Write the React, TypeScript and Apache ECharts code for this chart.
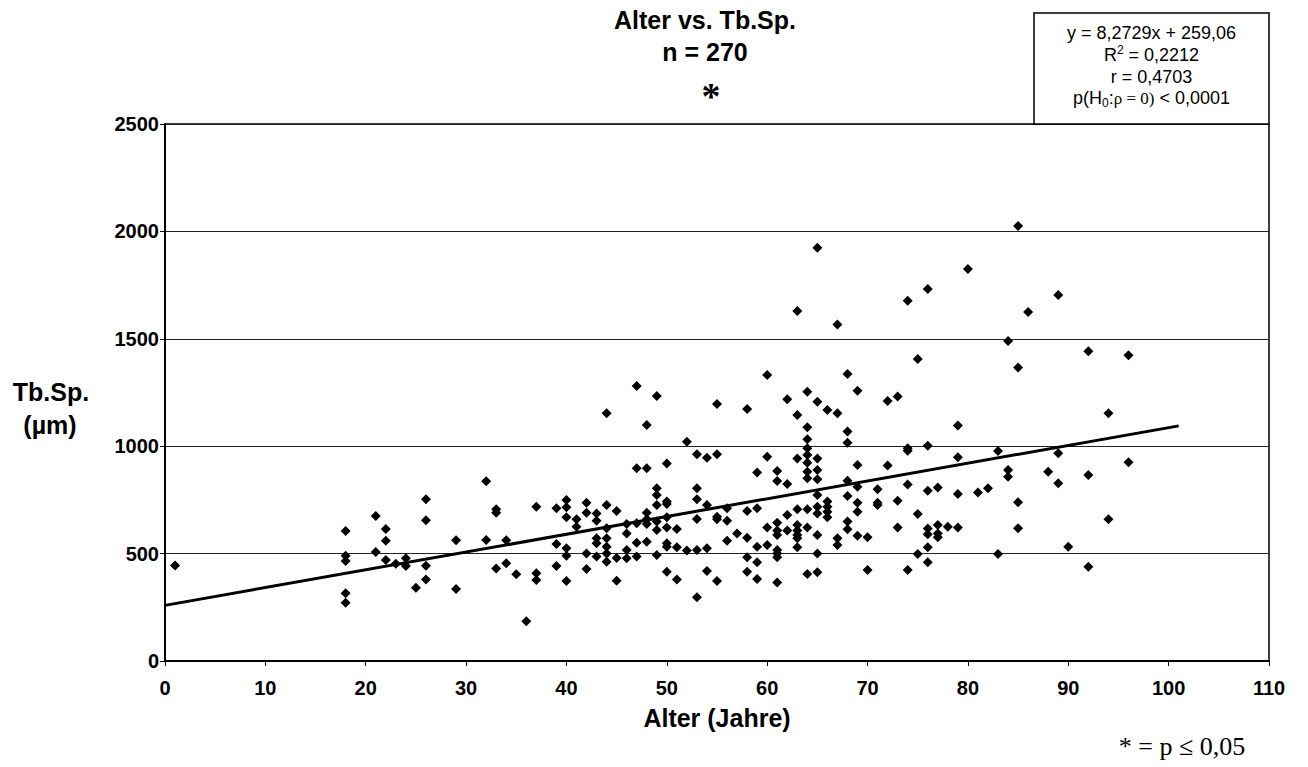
import React, { useEffect, useRef } from "react";
import * as echarts from "echarts";

// Ages (Jahre) and the Tb.Sp. values (µm) read at each age
const ALTER = [1, 18, 21, 22, 23, 24, 25, 26, 29, 32, 33, 34, 35, 36, 37, 39, 40, 41, 42, 43, 44, 45, 46, 47, 48, 49, 50, 51, 52, 53, 54, 55, 56, 57, 58, 59, 60, 61, 62, 63, 64, 65, 66, 67, 68, 69, 70, 71, 72, 73, 74, 75, 76, 77, 78, 79, 80, 81, 82, 83, 84, 85, 86, 88, 89, 90, 92, 94, 96];
const TBSP = [
  [445],
  [605, 490, 466, 315, 271],
  [675, 507],
  [614, 560, 470],
  [453],
  [478, 442],
  [341],
  [753, 655, 444, 380],
  [562, 335],
  [837, 563],
  [706, 690, 431],
  [562, 455],
  [404],
  [185],
  [718, 408, 377],
  [711, 545, 442],
  [750, 716, 669, 525, 490, 372],
  [660, 625],
  [737, 690, 501, 428],
  [687, 653, 571, 548, 486],
  [1153, 726, 618, 571, 532, 501, 462],
  [698, 480, 374],
  [638, 594, 517, 478],
  [1280, 897, 641, 551, 486],
  [1099, 897, 690, 660, 638, 555],
  [1234, 804, 773, 726, 649, 610, 493],
  [920, 742, 731, 669, 622, 548, 532, 416],
  [615, 529, 380],
  [1021, 514],
  [962, 804, 753, 661, 517, 297],
  [946, 726, 525, 419],
  [1197, 962, 672, 660, 372],
  [711, 653, 560],
  [594],
  [1173, 698, 574, 483, 416],
  [878, 711, 532, 460, 382],
  [1331, 951, 622, 540],
  [885, 838, 644, 607, 587, 517, 501, 483, 366],
  [1218, 824, 680, 607],
  [1629, 1145, 943, 706, 633, 607, 587, 571, 529],
  [1254, 1088, 1032, 990, 959, 923, 881, 851, 706, 622, 405],
  [1924, 1207, 943, 889, 846, 773, 718, 687, 587, 501, 413],
  [1169, 742, 718, 695, 669],
  [1567, 1153, 571, 540],
  [1336, 1068, 1016, 839, 768, 649, 613],
  [1258, 912, 811, 737, 695, 583],
  [576, 424],
  [799, 737, 726],
  [1210, 910],
  [1231, 746, 621],
  [1677, 990, 979, 822, 424],
  [1406, 684, 498],
  [1732, 1002, 793, 617, 590, 529, 460],
  [808, 633, 594, 576],
  [625],
  [1096, 948, 777, 621],
  [1825],
  [784],
  [804],
  [978, 498],
  [1490, 889, 858],
  [2025, 1366, 739, 618],
  [1625],
  [881],
  [1704, 967, 827],
  [532],
  [1442, 866, 439],
  [1153, 660],
  [1423, 925],
];

// Regression y = 8,2729x + 259,06, drawn from x = 0 to x = 101
const SLOPE = 8.2729;
const INTERCEPT = 259.06;
const TREND_X = [0, 101];

const X_TICKS = { min: 0, max: 110, interval: 10 };
const Y_TICKS = { min: 0, max: 2500, interval: 500 };

const SANS = "'Liberation Sans', Arial, sans-serif";
const SERIF = "'Liberation Serif', 'Times New Roman', serif";

export default function App() {
  const ref = useRef<HTMLDivElement>(null);

  useEffect(() => {
    if (!ref.current) return;
    const chart = echarts.init(ref.current, undefined, { renderer: "svg" });

    const points: number[][] = [];
    ALTER.forEach((a, i) => TBSP[i].forEach((v) => points.push([a, v])));
    const trend = TREND_X.map((x) => [x, SLOPE * x + INTERCEPT]);

    const boxLeft = 1034;
    const boxRight = 1269;
    const boxCx = (boxLeft + boxRight) / 2;
    const boxFont = { fontFamily: SANS, fontSize: 18, fill: "#000" };
    const plain = (v: number) => String(v);

    chart.setOption({
      animation: false,
      backgroundColor: "#fff",
      grid: {
        left: 165,
        right: 39,
        top: 124,
        bottom: 106,
        show: true,
        borderColor: "#000",
        borderWidth: 1.5,
        backgroundColor: "transparent",
      },
      xAxis: {
        type: "value",
        min: X_TICKS.min,
        max: X_TICKS.max,
        interval: X_TICKS.interval,
        axisLine: { show: true, onZero: false, lineStyle: { color: "#000", width: 2 } },
        axisTick: { show: true, inside: false, length: 5, lineStyle: { color: "#000", width: 1 } },
        axisLabel: { margin: 17, color: "#000", fontFamily: SANS, fontWeight: 700, fontSize: 20, formatter: plain },
        splitLine: { show: false },
      },
      yAxis: {
        type: "value",
        min: Y_TICKS.min,
        max: Y_TICKS.max,
        interval: Y_TICKS.interval,
        axisLine: { show: true, onZero: false, lineStyle: { color: "#000", width: 2 } },
        axisTick: { show: true, inside: false, length: 5, lineStyle: { color: "#000", width: 1 } },
        axisLabel: { margin: 6, color: "#000", fontFamily: SANS, fontWeight: 700, fontSize: 20, formatter: plain },
        splitLine: { show: true, lineStyle: { color: "#222", width: 1 } },
      },
      series: [
        {
          type: "scatter",
          data: points,
          symbol: "diamond",
          symbolSize: 10,
          itemStyle: { color: "#000", opacity: 1 },
          z: 3,
        },
        {
          type: "line",
          data: trend,
          symbol: "none",
          lineStyle: { color: "#000", width: 3 },
          z: 4,
        },
      ],
      graphic: [
        {
          type: "text",
          x: 705,
          y: 20,
          style: { text: "Alter vs. Tb.Sp.", fontFamily: SANS, fontWeight: "bold", fontSize: 25, fill: "#000", align: "center", verticalAlign: "middle" },
        },
        {
          type: "text",
          x: 705,
          y: 52,
          style: { text: "n = 270", fontFamily: SANS, fontWeight: "bold", fontSize: 25, fill: "#000", align: "center", verticalAlign: "middle" },
        },
        {
          type: "text",
          x: 711,
          y: 96,
          style: { text: "*", fontFamily: SERIF, fontWeight: "bold", fontSize: 38, fill: "#000", align: "center", verticalAlign: "middle" },
        },
        {
          type: "rect",
          shape: { x: boxLeft, y: 13, width: boxRight - boxLeft, height: 111 },
          style: { fill: "#fff", stroke: "#000", lineWidth: 1.5 },
          z: 10,
        },
        {
          type: "text",
          x: boxCx,
          y: 33,
          z: 11,
          style: { text: "y = 8,2729x + 259,06", ...boxFont, align: "center", verticalAlign: "middle" },
        },
        {
          type: "text",
          x: boxCx,
          y: 55,
          z: 11,
          style: {
            text: "R{sup|2} = 0,2212",
            ...boxFont,
            align: "center",
            verticalAlign: "middle",
            rich: {
              sup: { fontFamily: SANS, fontSize: 12, fill: "#000", verticalAlign: "top", lineHeight: 22 },
            },
          },
        },
        {
          type: "text",
          x: boxCx,
          y: 77,
          z: 11,
          style: { text: "r = 0,4703", ...boxFont, align: "center", verticalAlign: "middle" },
        },
        {
          type: "text",
          x: boxCx,
          y: 98,
          z: 11,
          style: {
            text: "p(H{sub|0}:{ser|ρ = 0)} < 0,0001",
            ...boxFont,
            align: "center",
            verticalAlign: "middle",
            rich: {
              sub: { fontFamily: SANS, fontSize: 12, fill: "#000", verticalAlign: "bottom", lineHeight: 22 },
              ser: { fontFamily: SERIF, fontSize: 17, fill: "#000" },
            },
          },
        },
        {
          type: "text",
          x: 51,
          y: 392,
          style: { text: "Tb.Sp.", fontFamily: SANS, fontWeight: "bold", fontSize: 25, fill: "#000", align: "center", verticalAlign: "middle" },
        },
        {
          type: "text",
          x: 50,
          y: 425,
          style: { text: "(µm)", fontFamily: SANS, fontWeight: "bold", fontSize: 25, fill: "#000", align: "center", verticalAlign: "middle" },
        },
        {
          type: "text",
          x: 717,
          y: 718,
          style: { text: "Alter (Jahre)", fontFamily: SANS, fontWeight: "bold", fontSize: 25, fill: "#000", align: "center", verticalAlign: "middle" },
        },
        {
          type: "text",
          x: 1182,
          y: 746,
          style: { text: "* = p ≤ 0,05", fontFamily: SERIF, fontSize: 26, fill: "#000", align: "center", verticalAlign: "middle" },
        },
      ],
    });

    return () => chart.dispose();
  }, []);

  return (
    <div
      ref={ref}
      style={{ position: "absolute", left: 0, top: 0, width: 1308, height: 767, background: "#fff" }}
    />
  );
}
